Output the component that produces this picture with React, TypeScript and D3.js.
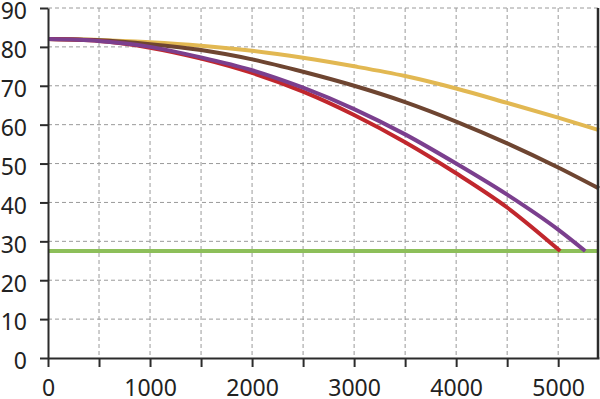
import React, { useEffect, useRef } from 'react';
import * as d3 from 'd3';

// distance values (x axis)
const xs = [0, 500, 1000, 1500, 2000, 2500, 3000, 3500, 4000, 4500, 5000, 5400];

const yellowVals = [82, 81.8, 81.2, 80.3, 79, 77.2, 75, 72.5, 69.3, 65.6, 61.8, 58.6];
const brownVals = [82, 81.7, 80.7, 79.2, 76.8, 73.6, 70, 65.8, 60.8, 55.2, 49, 43.6];
const purpleVals = [82, 81.5, 80, 77.3, 74, 69.5, 64, 57.5, 50, 42, 33];
const purpleEnd = [5265, 27.5];
const redVals = [82, 81.5, 79.8, 77, 73.3, 68.5, 62.5, 55.5, 47.5, 38.7];
const redEnd = [5020, 27.5];
const floorLevel = 27.5;

const xTicks = [0, 500, 1000, 1500, 2000, 2500, 3000, 3500, 4000, 4500, 5000];
const xLabels = [0, 1000, 2000, 3000, 4000, 5000];
const yTicks = [0, 10, 20, 30, 40, 50, 60, 70, 80, 90];

const App = () => {
  const svgRef = useRef<SVGSVGElement>(null);

  useEffect(() => {
    const svg = d3.select(svgRef.current);
    svg.selectAll('*').remove();

    const width = 600;
    const height = 399;
    const left = 48, right = 599, top = 8, bottom = 358;

    const x = d3.scaleLinear().domain([0, 5400]).range([left, right]);
    const y = d3.scaleLinear().domain([0, 90]).range([bottom, top]);

    svg.attr('width', width).attr('height', height);

    // grid
    const grid = svg.append('g')
      .attr('stroke', '#9a9a9a')
      .attr('stroke-width', 1)
      .attr('stroke-dasharray', '4,3');
    grid.selectAll('.gx')
      .data(xTicks.filter(d => d > 0))
      .enter().append('line')
      .attr('x1', d => x(d)).attr('x2', d => x(d))
      .attr('y1', top).attr('y2', bottom);
    grid.selectAll('.gy')
      .data(yTicks.filter(d => d > 0))
      .enter().append('line')
      .attr('x1', left).attr('x2', right)
      .attr('y1', d => y(d)).attr('y2', d => y(d));

    // lines
    const line = d3.line<number[]>()
      .x(d => x(d[0]))
      .y(d => y(d[1]))
      .curve(d3.curveMonotoneX);

    const series = [
      { color: '#8dbf5a', pts: [[0, floorLevel], [5400, floorLevel]] },
      { color: '#e2b852', pts: yellowVals.map((v, i) => [xs[i], v]) },
      { color: '#6e4531', pts: brownVals.map((v, i) => [xs[i], v]) },
      { color: '#c1272d', pts: [...redVals.map((v, i) => [xs[i], v]), redEnd] },
      { color: '#7b3f8e', pts: [...purpleVals.map((v, i) => [xs[i], v]), purpleEnd] },
    ];

    svg.append('g').selectAll('path')
      .data(series)
      .enter().append('path')
      .attr('fill', 'none')
      .attr('stroke', d => d.color)
      .attr('stroke-width', 4)
      .attr('stroke-linejoin', 'round')
      .attr('d', d => line(d.pts));

    // axes
    const font = '"Noto Sans", "Open Sans", sans-serif';

    const yAxis = svg.append('g')
      .attr('transform', `translate(${left},0)`)
      .call(d3.axisLeft(y).tickValues(yTicks).tickSize(8).tickPadding(13).tickSizeOuter(0));
    yAxis.select('.domain').attr('stroke', '#2b2b2b').attr('stroke-width', 2);
    yAxis.selectAll('.tick line').attr('stroke', '#2b2b2b').attr('stroke-width', 2);
    yAxis.selectAll('.tick text')
      .attr('font-size', 23)
      .attr('font-family', font)
      .attr('fill', '#222')
      .attr('dy', '0.47em');

    const xAxis = svg.append('g')
      .attr('transform', `translate(0,${bottom})`)
      .call(d3.axisBottom(x).tickValues(xTicks).tickSize(9).tickPadding(13).tickSizeOuter(0)
        .tickFormat(d => (xLabels.includes(d as number) ? String(d) : '')));
    xAxis.select('.domain').attr('stroke', '#2b2b2b').attr('stroke-width', 2);
    xAxis.selectAll('.tick line').attr('stroke', '#2b2b2b').attr('stroke-width', 2);
    xAxis.selectAll('.tick text')
      .attr('font-size', 23)
      .attr('font-family', font)
      .attr('fill', '#222');

    // right frame
    svg.append('line')
      .attr('x1', right - 1).attr('x2', right - 1)
      .attr('y1', top).attr('y2', bottom)
      .attr('stroke', '#2b2b2b')
      .attr('stroke-width', 2.5);
  }, []);

  return (
    <div style={{ position: 'absolute', left: 0, top: 0 }}>
      <svg ref={svgRef} style={{ display: 'block' }}></svg>
    </div>
  );
};

export default App;
